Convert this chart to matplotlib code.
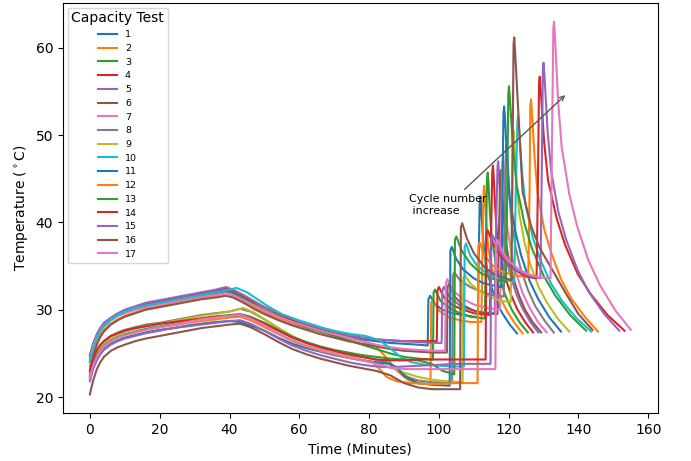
import matplotlib
matplotlib.use("Agg")
import matplotlib.pyplot as plt

# (time [min], temperature [degC]) points, one list per cycle
c01 = [(0,24.0),(0.5,24.9),(1,25.7),(2,26.8),(3,27.6),(4,28.1),(6,28.8),(8,29.3),(10,29.7),(13,30.1),(16,30.4),(20,30.7),(24,31.0),(28,31.3),(32,31.6),(36,31.9),(39,32.1),(41,31.9),(44,31.2),(47,30.5),(50,29.9),(54,29.1),(58,28.5),(62,28.0),(66,27.6),(70,27.2),(74,26.9),(78,26.6),(82,26.4),(86,26.2),(90,26.1),(94,26.0),(96.8,25.9),(97.0,31.2),(97.5,31.6),(99,30.6),(101,30.0),(104,29.6),(107,29.4),(110,29.2),(111.2,29.2),(111.4,35.5),(111.7,42.4),(111.9,43.0),(112.1,42.0),(112.5,39.0),(113.0,36.6),(114.0,34.2),(115.05,32.6),(116.6,30.8),(118.2,29.6),(120.3,28.3),(122.4,27.3)]
c02 = [(0,23.5),(0.5,24.4),(1,25.2),(2,26.3),(3,27.1),(4,27.7),(6,28.4),(8,28.9),(10,29.3),(13,29.7),(16,30.1),(20,30.4),(24,30.8),(28,31.1),(32,31.4),(36,31.6),(39,31.9),(41,31.6),(44,31.0),(47,30.3),(50,29.7),(54,29.0),(58,28.4),(62,27.9),(66,27.5),(70,27.1),(74,26.7),(78,26.4),(82,25.8),(85,24.5),(88,23.0),(91,22.0),(94,21.6),(97.6,21.5),(97.8,30.8),(98.2,31.1),(100,29.9),(103,29.1),(106,28.8),(109,28.6),(112.2,28.6),(112.45,35.6),(112.8,43.5),(113.0,44.2),(113.2,43.2),(113.6,39.9),(114.1,37.3),(115.2,34.7),(116.3,33.0),(117.95,31.1),(119.6,29.8),(121.8,28.4),(124.0,27.3)]
c03 = [(0,24.3),(0.5,25.2),(1,26.0),(2,27.0),(3,27.8),(4,28.3),(6,29.0),(8,29.5),(10,29.9),(13,30.3),(16,30.6),(20,30.9),(24,31.2),(28,31.5),(32,31.8),(36,32.1),(39,32.3),(41,32.1),(44,31.4),(47,30.7),(50,30.0),(54,29.3),(58,28.6),(62,28.0),(66,27.5),(70,27.0),(74,26.5),(78,26.0),(82,25.5),(86,25.0),(90,24.6),(94,24.4),(98.3,24.3),(98.5,32.0),(98.9,32.3),(100.5,31.0),(103,30.2),(106,29.6),(109,29.2),(113.2,29.0),(113.45,36.5),(113.8,45.0),(114.0,45.7),(114.2,44.6),(114.65,41.0),(115.15,38.2),(116.3,35.4),(117.45,33.5),(119.2,31.5),(120.9,30.0),(123.2,28.5),(125.5,27.4)]
c04 = [(0,24.8),(0.5,25.5),(1,26.2),(2,27.2),(3,27.9),(4,28.4),(6,29.0),(8,29.5),(10,29.9),(13,30.3),(16,30.6),(20,30.9),(24,31.2),(28,31.5),(32,31.8),(36,32.1),(39,32.4),(41,32.2),(44,31.6),(47,30.9),(50,30.3),(54,29.5),(58,28.8),(62,28.2),(66,27.8),(70,27.4),(74,27.1),(78,26.8),(82,26.6),(86,26.5),(90,26.4),(94,26.4),(98,26.4),(99.4,26.4),(99.6,32.2),(100,32.6),(101.5,31.4),(104,30.5),(107,30.0),(110,29.6),(114.6,29.4),(114.9,37.0),(115.3,45.8),(115.5,46.5),(115.7,45.4),(116.15,41.6),(116.65,38.7),(117.8,35.8),(118.95,33.8),(120.7,31.7),(122.4,30.1),(124.7,28.6),(127.0,27.4)]
c05 = [(0,24.6),(0.5,25.4),(1,26.1),(2,27.1),(3,27.9),(4,28.5),(6,29.1),(8,29.6),(10,30.0),(13,30.4),(16,30.8),(20,31.1),(24,31.4),(28,31.7),(32,32.0),(36,32.3),(39,32.6),(41,32.3),(44,31.7),(47,31.0),(50,30.3),(54,29.6),(58,29.0),(62,28.4),(66,27.9),(70,27.5),(74,27.1),(78,26.8),(82,26.6),(86,26.5),(90,26.4),(94,26.3),(98,26.2),(100.8,26.2),(101.0,32.2),(101.4,32.6),(103,31.5),(106,30.5),(109,30.0),(112,29.7),(116.0,29.6),(116.3,37.5),(116.8,46.3),(117.0,47.0),(117.2,45.9),(117.65,42.0),(118.15,39.0),(119.3,36.0),(120.45,34.0),(122.2,31.8),(123.9,30.2),(126.2,28.6),(128.5,27.4)]
c06 = [(0,23.0),(0.5,23.9),(1,24.8),(2,26.0),(3,26.9),(4,27.5),(6,28.3),(8,28.8),(10,29.2),(13,29.6),(16,30.0),(20,30.3),(24,30.6),(28,30.9),(32,31.2),(36,31.4),(39,31.6),(41,31.4),(44,30.8),(47,30.1),(50,29.5),(54,28.8),(58,28.2),(62,27.7),(66,27.2),(70,26.8),(74,26.4),(78,26.1),(82,25.8),(86,25.5),(90,25.3),(94,25.2),(98,25.1),(102.3,25.1),(102.5,32.6),(102.9,33.0),(104.5,31.5),(107,30.5),(110,29.9),(113,29.6),(116.8,29.5),(117.1,37.0),(117.6,45.3),(117.8,46.0),(118.0,44.9),(118.45,41.3),(118.95,38.4),(120.1,35.6),(121.25,33.7),(123.0,31.6),(124.7,30.0),(127.0,28.5),(129.3,27.4)]
c07 = [(0,24.2),(0.5,25.1),(1,25.9),(2,26.9),(3,27.6),(4,28.2),(6,28.8),(8,29.3),(10,29.6),(13,30.0),(16,30.3),(20,30.6),(24,30.9),(28,31.2),(32,31.5),(36,31.7),(39,31.9),(41,31.7),(44,31.1),(47,30.5),(50,29.9),(54,29.2),(58,28.6),(62,28.1),(66,27.6),(70,27.2),(74,26.8),(78,26.4),(82,26.0),(86,25.7),(90,25.5),(94,25.4),(98,25.3),(101.8,25.3),(102.0,33.0),(102.4,33.5),(104,32.2),(107,31.2),(110,30.6),(114,30.2),(117.5,30.0),(117.8,38.0),(118.2,46.8),(118.4,47.5),(118.6,46.4),(119.05,42.4),(119.65,39.3),(120.9,36.2),(122.15,34.2),(124.0,31.9),(125.9,30.3),(128.4,28.6),(130.9,27.4)]
c08 = [(0,22.8),(0.5,23.6),(1,24.3),(2,25.2),(3,25.9),(4,26.4),(6,27.0),(8,27.4),(10,27.7),(13,28.0),(16,28.3),(20,28.5),(24,28.8),(28,29.1),(32,29.4),(36,29.6),(40,29.8),(43,30.1),(46,29.8),(50,28.9),(54,27.9),(58,26.9),(62,26.2),(66,25.7),(70,25.3),(74,24.9),(78,24.6),(82,24.3),(85,24.0),(88,23.2),(91,22.3),(94,21.9),(98,21.7),(103.8,21.6),(104.0,33.9),(104.4,34.3),(106,33.4),(109,32.6),(112,32.1),(115,31.7),(118.6,31.5),(118.9,39.5),(119.2,48.2),(119.4,49.0),(119.6,47.8),(120.15,43.5),(120.75,40.2),(122.1,36.9),(123.45,34.7),(125.5,32.3),(127.5,30.5),(130.2,28.8),(132.9,27.4)]
c09 = [(0,22.6),(0.5,23.4),(1,24.1),(2,25.0),(3,25.7),(4,26.2),(6,26.8),(8,27.2),(10,27.5),(13,27.8),(16,28.1),(20,28.4),(24,28.7),(28,29.0),(32,29.3),(36,29.5),(40,29.8),(44,30.2),(47,29.7),(50,28.9),(54,27.9),(58,27.0),(62,26.2),(66,25.6),(70,25.1),(74,24.7),(78,24.3),(82,23.9),(86,23.4),(90,22.8),(94,22.3),(98,22.0),(102,21.8),(106.8,21.7),(107.0,33.6),(107.4,34.0),(109,33.0),(112,32.0),(115,31.4),(118,31.0),(120.6,30.9),(120.9,40.0),(121.2,49.7),(121.4,50.5),(121.6,49.3),(122.25,44.6),(123.0,41.1),(124.6,37.6),(126.2,35.2),(128.6,32.6),(131.0,30.8),(134.2,28.9),(137.4,27.5)]
c10 = [(0,24.0),(0.5,24.9),(1,25.7),(2,26.8),(3,27.6),(4,28.2),(6,28.9),(8,29.4),(10,29.8),(13,30.2),(16,30.5),(20,30.8),(24,31.1),(28,31.4),(32,31.7),(36,32.0),(40,32.3),(42,32.5),(45,32.0),(48,31.2),(51,30.4),(55,29.5),(59,28.9),(63,28.4),(67,27.9),(71,27.5),(75,27.2),(79,27.0),(83,26.5),(86,25.6),(89,24.6),(92,24.0),(96,23.7),(100,23.6),(104,23.5),(107.2,23.5),(107.4,37.2),(107.8,37.6),(109,36.2),(111,35.0),(114,34.1),(117,33.6),(121.6,33.2),(122.0,42.5),(122.5,51.4),(122.7,52.2),(122.95,51.0),(123.8,45.9),(124.8,42.1),(126.9,38.3),(129.0,35.8),(132.15,33.0),(135.3,31.0),(139.5,29.0),(143.7,27.5)]
c11 = [(0,22.0),(0.5,22.8),(1,23.5),(2,24.4),(3,25.1),(4,25.5),(6,26.1),(8,26.5),(10,26.8),(13,27.1),(16,27.4),(20,27.7),(24,27.9),(28,28.2),(32,28.4),(36,28.6),(40,28.7),(43,28.6),(46,28.2),(50,27.6),(54,26.8),(58,26.1),(62,25.6),(66,25.2),(70,24.8),(74,24.5),(78,24.2),(82,24.0),(86,23.8),(88,23.4),(90,22.4),(94,21.6),(98,21.4),(103.1,21.3),(103.3,36.8),(103.7,37.2),(105,35.8),(107,34.6),(110,33.6),(113,33.0),(117.9,32.6),(118.2,42.0),(118.5,52.5),(118.7,53.3),(118.95,52.0),(119.6,46.7),(120.3,42.8),(122.0,38.8),(123.6,36.2),(126.0,33.3),(128.5,31.2),(131.7,29.1),(135.0,27.5)]
c12 = [(0,22.3),(0.5,23.1),(1,23.8),(2,24.7),(3,25.3),(4,25.8),(6,26.4),(8,26.8),(10,27.1),(13,27.4),(16,27.7),(20,28.0),(24,28.2),(28,28.5),(32,28.7),(36,28.9),(40,29.1),(43,29.2),(46,28.8),(50,28.0),(54,27.2),(58,26.4),(62,25.8),(66,25.3),(70,24.9),(74,24.5),(78,24.2),(81,24.0),(83,23.2),(85,22.3),(88,21.8),(92,21.6),(96,21.5),(100,21.5),(105,21.6),(111.1,21.6),(111.3,37.3),(111.7,37.7),(113,36.3),(115,35.2),(118,34.4),(121,34.0),(125.6,33.7),(126.0,43.5),(126.2,53.3),(126.4,54.1),(126.65,52.8),(127.45,47.3),(128.3,43.3),(130.2,39.2),(132.2,36.5),(135.0,33.5),(137.9,31.3),(141.8,29.2),(145.6,27.5)]
c13 = [(0,22.4),(0.5,23.2),(1,23.9),(2,24.8),(3,25.4),(4,25.9),(6,26.5),(8,26.9),(10,27.2),(13,27.5),(16,27.8),(20,28.1),(24,28.4),(28,28.7),(32,29.0),(36,29.2),(40,29.4),(43,29.5),(46,29.2),(50,28.5),(54,27.7),(58,26.9),(62,26.3),(66,25.8),(70,25.4),(74,25.1),(78,24.8),(82,24.6),(86,24.4),(90,24.3),(94,24.2),(98,23.8),(101,23.0),(104.4,22.6),(104.6,38.0),(105.0,38.4),(106.5,36.8),(109,35.3),(112,34.2),(115,33.6),(119.2,33.2),(119.6,44.0),(119.9,54.8),(120.1,55.6),(120.35,54.2),(121.25,48.5),(122.3,44.2),(124.5,39.9),(126.7,37.0),(130.0,33.9),(133.4,31.6),(137.8,29.3),(142.2,27.6)]
c14 = [(0,23.0),(0.5,23.8),(1,24.5),(2,25.4),(3,26.0),(4,26.4),(6,27.0),(8,27.3),(10,27.6),(13,27.9),(16,28.1),(20,28.4),(24,28.6),(28,28.8),(32,29.0),(36,29.2),(40,29.3),(43,29.4),(46,29.1),(50,28.4),(54,27.6),(58,26.8),(62,26.2),(66,25.7),(70,25.3),(74,24.9),(78,24.6),(82,24.3),(86,24.2),(90,24.2),(95,24.3),(100,24.3),(105,24.3),(110,24.3),(113.4,24.3),(113.6,38.7),(114.0,39.1),(115.5,37.6),(118,36.0),(121,34.8),(124,34.0),(126.5,33.7),(128.0,33.6),(128.4,45.0),(128.7,55.9),(128.9,56.7),(129.15,55.3),(130.15,49.3),(131.3,44.8),(133.8,40.4),(136.2,37.4),(139.8,34.1),(143.5,31.8),(148.3,29.4),(153.2,27.6)]
c15 = [(0,21.8),(0.5,22.6),(1,23.3),(2,24.2),(3,24.9),(4,25.4),(6,26.0),(8,26.4),(10,26.7),(13,27.0),(16,27.3),(20,27.6),(24,27.9),(28,28.1),(32,28.3),(36,28.5),(40,28.7),(43,28.8),(46,28.4),(50,27.6),(54,26.7),(58,25.9),(62,25.3),(66,24.8),(70,24.4),(74,24.0),(78,23.7),(82,23.5),(86,23.4),(90,23.5),(95,23.6),(100,23.7),(105,23.8),(110,23.8),(114.8,23.8),(115.0,38.1),(115.4,38.5),(117,37.0),(119.5,35.5),(122,34.6),(125,34.0),(129.1,33.6),(129.5,46.0),(129.8,57.5),(130.0,58.3),(130.25,56.9),(131.15,50.5),(132.2,45.8),(134.3,41.1),(136.5,38.0),(139.8,34.5),(143.0,32.0),(147.4,29.5),(151.7,27.6)]
c16 = [(0,20.3),(0.5,21.2),(1,22.0),(2,23.2),(3,24.0),(4,24.6),(6,25.3),(8,25.7),(10,26.0),(13,26.4),(16,26.7),(20,27.0),(24,27.3),(28,27.6),(32,27.9),(36,28.1),(40,28.3),(43,28.4),(46,28.0),(50,27.2),(54,26.3),(58,25.5),(62,24.9),(66,24.4),(70,24.0),(74,23.6),(78,23.3),(82,23.0),(86,22.5),(90,21.6),(94,21.1),(98,20.9),(102,20.9),(106.1,20.9),(106.3,39.4),(106.7,39.9),(108,38.2),(110,36.5),(113,34.9),(116,34.0),(120.8,33.4),(121.1,47.0),(121.4,60.4),(121.6,61.2),(121.85,59.5),(122.85,52.0),(124,43.5),(126.5,39.5),(129,37.0),(132.6,34.5),(136.2,32.0),(140,29.5),(144,27.7)]
c17 = [(0,22.2),(0.5,23.0),(1,23.7),(2,24.6),(3,25.3),(4,25.8),(6,26.4),(8,26.8),(10,27.1),(13,27.4),(16,27.7),(20,28.0),(24,28.3),(28,28.6),(32,28.9),(36,29.1),(40,29.3),(43,29.4),(46,29.0),(50,28.2),(54,27.3),(58,26.5),(62,25.9),(66,25.4),(70,25.0),(74,24.6),(78,24.2),(82,23.8),(86,23.4),(90,23.2),(95,23.2),(100,23.2),(105,23.2),(110,23.2),(116.2,23.2),(116.4,37.6),(116.8,38.0),(118,36.8),(120,35.6),(123,34.6),(126,34.0),(129,33.7),(132.0,33.6),(132.4,48.5),(132.8,62.2),(133.0,63.0),(133.25,61.5),(134.15,54.0),(135.2,48.6),(137.4,43.2),(139.6,39.6),(142.9,35.6),(146.2,32.8),(150.6,29.9),(155.0,27.7)]

cycles = [c01, c02, c03, c04, c05, c06, c07, c08, c09, c10, c11, c12, c13, c14, c15, c16, c17]
labels = [str(i) for i in range(1, 18)]

fig = plt.figure(figsize=(6.91, 4.61), dpi=100)
ax = fig.add_axes([0.091, 0.104, 0.861, 0.8895])

for pts, lab in zip(cycles, labels):
    t = [p[0] for p in pts]
    T = [p[1] for p in pts]
    ax.plot(t, T, label=lab, lw=1.5)

ax.set_xlabel("Time (Minutes)")
ax.set_ylabel(r"Temperature ($^\circ$C)")
ax.set_xticks([0, 20, 40, 60, 80, 100, 120, 140, 160])
ax.set_yticks([20, 30, 40, 50, 60])

ax.annotate("Cycle number\n increase", xy=(136.8, 54.8), xytext=(91.5, 41.0),
            fontsize=8, arrowprops=dict(arrowstyle="->", color="0.35", lw=1))

ax.legend(title="Capacity Test", loc="upper left", fontsize=6.8, title_fontsize=10)

fig.savefig("out.png", dpi=100)
